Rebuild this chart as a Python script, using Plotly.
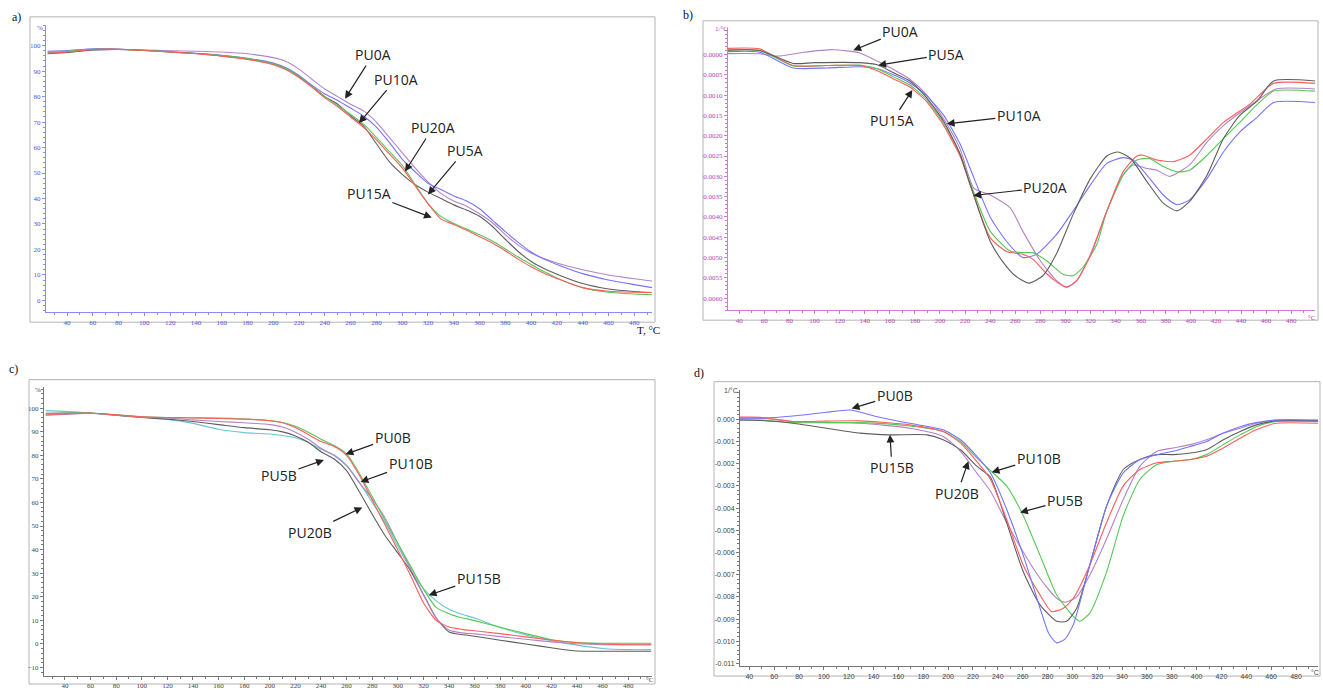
import plotly.graph_objects as go

W, H = 1323, 690

# ---------------- a) TG curves, series A (mass %, vs T in °C) ----------------
T_A = [25, 40, 60, 80, 100, 120, 140, 160, 180, 200, 210, 220, 230, 240, 250, 260, 270, 280, 290,
       300, 310, 320, 330, 340, 350, 360, 370, 380, 390, 400, 410, 420, 440, 460, 480, 494]
A_PU0A = [97.3, 97.6, 98.3, 98.5, 98.3, 98.0, 97.8, 97.5, 96.8, 95.3, 93.8, 90.8, 86.8, 83.0, 80.0, 77.0, 74.4, 70.0, 64.0,
          58.0, 52.0, 46.5, 42.0, 39.0, 37.0, 34.0, 30.5, 25.8, 21.7, 18.6, 16.4, 14.7, 12.0, 10.0, 8.5, 7.6]
A_PU10A = [97.8, 98.1, 98.8, 98.7, 98.2, 97.6, 97.0, 96.2, 95.0, 93.2, 91.3, 88.3, 84.5, 81.0, 78.5, 75.5, 72.4, 68.0, 62.0,
           55.5, 50.5, 46.0, 43.5, 41.0, 39.0, 36.0, 31.5, 27.0, 22.8, 19.0, 16.2, 14.1, 10.5, 8.0, 6.2, 5.0]
A_PU5A = [96.8, 97.3, 98.3, 98.5, 98.1, 97.5, 96.9, 96.0, 94.8, 92.8, 90.8, 87.8, 84.0, 80.0, 77.0, 72.5, 68.5, 61.5, 54.5,
          49.5, 45.5, 42.5, 40.0, 37.5, 35.5, 33.0, 29.0, 24.0, 19.2, 15.3, 12.5, 10.3, 6.6, 4.5, 3.5, 3.1]
A_PU20A = [97.5, 97.8, 98.6, 98.6, 98.2, 97.5, 96.9, 96.1, 94.9, 92.9, 90.9, 87.9, 84.0, 80.0, 76.5, 73.0, 69.2, 64.0, 58.5,
           53.0, 45.5, 38.0, 33.0, 30.2, 28.0, 25.8, 23.3, 20.2, 17.0, 14.1, 11.3, 8.8, 5.0, 3.2, 2.5, 2.2]
A_PU15A = [97.0, 97.5, 98.5, 98.6, 98.1, 97.5, 96.8, 95.9, 94.6, 92.5, 90.5, 87.5, 83.7, 79.5, 76.0, 72.0, 67.9, 63.0, 57.5,
           52.0, 45.0, 38.0, 32.0, 29.8, 27.5, 25.0, 22.5, 19.5, 16.2, 13.2, 10.7, 8.6, 5.0, 3.6, 3.2, 3.1]

# ---------------- b) DTG curves, series A (units of 1e-3 1/°C) ----------------
B_T_PU0A = [23, 56, 70, 90, 115, 136, 150, 163, 176, 189, 203, 216, 227, 240, 256, 266, 280, 293, 301, 309,
            320, 333, 346, 354, 364, 373, 383, 399, 413, 426, 447, 468, 499]
B_PU0A = [0.02, 0.02, -0.04, 0.05, 0.12, 0.04, -0.16, -0.37, -0.61, -0.98, -1.59, -2.32, -3.29, -3.46, -3.78, -4.35,
          -5.08, -5.57, -5.73, -5.57, -4.92, -3.86, -2.97, -2.72, -2.80, -2.85, -3.0, -2.72, -2.15, -1.75, -1.26, -0.85, -0.85]
B_T_PU5A = [23, 56, 83, 100, 136, 150, 163, 176, 189, 203, 216, 224, 240, 250, 260, 271, 282, 293, 306, 320,
            333, 342, 352, 365, 378, 389, 399, 413, 426, 439, 453, 466, 499]
B_PU5A = [0.1, 0.1, -0.22, -0.2, -0.2, -0.25, -0.45, -0.65, -1.05, -1.65, -2.45, -3.2, -4.6, -5.1, -5.45, -5.63,
          -5.45, -4.9, -3.95, -3.05, -2.5, -2.4, -2.56, -3.13, -3.66, -3.85, -3.62, -2.97, -2.07, -1.5, -1.14, -0.65, -0.65]
B_T_PU15A = [23, 56, 83, 110, 136, 150, 163, 176, 189, 203, 216, 224, 240, 253, 266, 274, 285, 293, 301, 309,
             320, 333, 346, 357, 362, 373, 386, 399, 413, 426, 447, 466, 499]
B_PU15A = [0.14, 0.14, -0.27, -0.27, -0.27, -0.4, -0.6, -0.8, -1.15, -1.75, -2.5, -3.2, -4.51, -4.85, -4.92, -5.04,
           -5.4, -5.6, -5.73, -5.57, -4.95, -3.86, -2.89, -2.5, -2.48, -2.6, -2.64, -2.48, -2.07, -1.67, -1.22, -0.71, -0.71]
B_T_PU20A = [23, 56, 83, 110, 136, 150, 163, 176, 189, 203, 216, 224, 240, 256, 266, 274, 285, 298, 306, 314,
             325, 333, 346, 357, 367, 378, 389, 399, 413, 426, 439, 452, 466, 499]
B_PU20A = [0.1, 0.1, -0.28, -0.27, -0.26, -0.35, -0.55, -0.75, -1.1, -1.7, -2.45, -3.15, -4.35, -4.84, -4.88, -4.88,
           -5.08, -5.41, -5.45, -5.24, -4.68, -3.86, -2.97, -2.6, -2.56, -2.76, -2.89, -2.85, -2.48, -2.07, -1.67, -1.26, -0.9, -0.9]
B_T_PU10A = [23, 56, 83, 110, 136, 150, 163, 176, 189, 203, 216, 224, 240, 253, 266, 277, 293, 306, 320, 333,
             346, 354, 365, 378, 389, 399, 413, 426, 439, 453, 466, 499]
B_PU10A = [0.06, 0.06, -0.33, -0.33, -0.3, -0.35, -0.5, -0.7, -1.0, -1.5, -2.2, -2.8, -4.0, -4.6, -5.0, -4.92,
           -4.43, -3.86, -3.21, -2.68, -2.54, -2.6, -2.97, -3.46, -3.7, -3.58, -3.05, -2.4, -1.91, -1.54, -1.18, -1.18]
B_YTICKS = [0, -0.5, -1.0, -1.5, -2.0, -2.5, -3.0, -3.5, -4.0, -4.5, -5.0, -5.5, -6.0]
B_YTEXT = ["0.0000", "0.0005", "0.0010", "0.0015", "0.0020", "0.0025", "0.0030",
           "0.0035", "0.0040", "0.0045", "0.0050", "0.0055", "0.0060"]

# ---------------- c) TG curves, series B (mass %) ----------------
T_C = [25, 40, 60, 80, 100, 120, 140, 160, 180, 200, 210, 220, 230, 240, 250, 260, 270, 280, 290, 300,
       310, 320, 330, 340, 350, 360, 380, 400, 420, 440, 460, 480, 498]
C_PU15B = [98.9, 98.6, 97.9, 97.0, 96.2, 95.2, 93.5, 91.0, 89.6, 89.0, 88.4, 87.4, 85.5, 82.5, 80.2, 75.8, 68.5, 60.0, 51.5, 41.3,
           31.6, 23.5, 18.3, 14.7, 12.6, 11.0, 7.0, 3.8, 1.4, -0.5, -1.9, -2.4, -2.4]
C_PU20B = [97.8, 97.9, 97.8, 97.0, 96.0, 95.3, 94.3, 93.0, 91.7, 90.8, 89.9, 88.2, 85.5, 81.5, 78.5, 73.5, 64.5, 55.0, 46.0, 38.6,
           31.0, 21.0, 11.0, 5.1, 4.0, 3.3, 1.6, 0.0, -1.6, -3.0, -3.1, -3.1, -3.1]
C_PU5B = [97.2, 97.3, 97.8, 97.0, 96.2, 95.8, 95.0, 94.3, 93.8, 93.0, 92.0, 89.8, 86.8, 83.0, 80.0, 75.5, 68.3, 61.5, 53.5, 42.6,
          32.0, 21.0, 11.0, 5.9, 4.7, 4.3, 3.1, 2.0, 0.9, 0.1, -0.3, -0.3, -0.3]
C_PU10B = [97.0, 97.6, 97.9, 97.1, 96.3, 96.0, 95.8, 95.6, 95.3, 94.6, 93.8, 91.8, 88.8, 85.8, 83.8, 80.0, 71.5, 61.0, 50.5, 39.8,
           29.0, 17.5, 10.0, 7.2, 6.2, 5.6, 4.4, 3.0, 1.7, 0.6, 0.0, -0.3, -0.3]
C_PU0B = [97.6, 97.8, 97.9, 97.1, 96.3, 96.0, 95.9, 95.8, 95.4, 94.7, 93.9, 92.3, 89.8, 86.8, 84.2, 80.6, 72.3, 62.5, 52.3, 42.7,
          33.0, 23.3, 15.5, 12.8, 11.1, 9.9, 7.1, 4.4, 1.8, 0.6, 0.3, 0.3, 0.3]

# ---------------- d) DTG curves, series B (units of 1e-3 1/°C) ----------------
D_T_PU0B = [23, 49, 75, 102, 121, 143, 169, 196, 210, 223, 234, 247, 260.5, 274, 281, 287.4, 294, 300.8, 314,
            327.6, 341, 354.4, 368, 381, 395, 408, 421.5, 435, 448, 464, 498]
D_PU0B = [0.05, 0.05, 0.15, 0.32, 0.42, 0.12, -0.18, -0.47, -0.92, -1.66, -2.41, -4.04, -6.13, -8.51, -9.65, -10.07, -9.9,
          -9.25, -6.57, -3.9, -2.41, -1.81, -1.59, -1.44, -1.22, -1.0, -0.62, -0.33, -0.15, -0.03, -0.03]
D_T_PU15B = [23, 49, 75, 102, 129, 153, 183, 196, 210, 223, 234, 247, 260.5, 274, 287.4, 295.4, 303.5, 314,
             327.6, 341, 354.4, 368, 381, 395, 408, 421.5, 435, 448, 464, 498]
D_PU15B = [-0.03, -0.05, -0.18, -0.4, -0.62, -0.7, -0.7, -0.92, -1.37, -2.11, -2.6, -4.64, -6.87, -8.36, -9.1, -9.1, -8.51,
           -6.57, -3.9, -2.26, -1.81, -1.59, -1.59, -1.52, -1.37, -0.92, -0.55, -0.25, -0.07, -0.07]
D_T_PU10B = [23, 49, 75, 102, 129, 169, 196, 210, 223, 234, 247, 260.5, 274, 283.3, 292.7, 300.8, 314, 327.6,
             341, 354.4, 368, 381, 395, 408, 421.5, 435, 448, 464, 498]
D_PU10B = [0.09, 0.09, -0.1, -0.08, -0.07, -0.25, -0.55, -1.07, -1.89, -2.7, -4.49, -6.57, -7.91, -8.66, -8.51, -8.06,
           -6.57, -4.64, -3.0, -2.26, -1.96, -1.89, -1.81, -1.66, -1.29, -0.85, -0.47, -0.18, -0.18]
D_T_PU20B = [23, 49, 75, 102, 129, 169, 196, 210, 223, 234, 247, 260.5, 274, 287.4, 294, 303.5, 314, 327.6,
             341, 354.4, 368, 381, 395, 408, 421.5, 435, 448, 464, 498]
D_PU20B = [0.05, 0.05, -0.1, -0.15, -0.18, -0.4, -0.77, -1.44, -2.41, -3.23, -4.64, -5.98, -7.17, -8.06, -8.24, -8.0,
           -7.02, -5.38, -3.6, -2.11, -1.44, -1.29, -1.14, -0.92, -0.62, -0.4, -0.18, -0.03, -0.05]
D_T_PU5B = [23, 49, 75, 102, 129, 169, 196, 210, 223, 234, 247, 260.5, 274, 287.4, 300.8, 306, 314, 327.6,
            341, 354.4, 368, 381, 395, 408, 421.5, 435, 448, 464, 498]
D_PU5B = [-0.03, -0.03, -0.15, -0.15, -0.15, -0.3, -0.55, -1.0, -1.74, -2.3, -3.0, -4.34, -6.13, -7.91, -8.88, -9.1,
          -8.73, -6.87, -4.34, -2.7, -2.04, -1.89, -1.81, -1.59, -1.14, -0.7, -0.33, -0.1, -0.1]
D_YTICKS = [0, -1, -2, -3, -4, -5, -6, -7, -8, -9, -10, -11]
D_YTEXT = ["0.000", "-0.001", "-0.002", "-0.003", "-0.004", "-0.005", "-0.006",
           "-0.007", "-0.008", "-0.009", "-0.010", "-0.011"]

# ---------------- colours ----------------
PURPLE, BLUE, GRAY, GREEN, RED, CYAN = "#b483c6", "#7474ff", "#5e5e5e", "#55c855", "#ff5c5c", "#66c8cc"

fig = go.Figure()


def add(x, y, color, ax):
    fig.add_trace(go.Scatter(x=x, y=y, mode="lines", xaxis="x" + ax, yaxis="y" + ax,
                             line=dict(color=color, width=1.1, shape="spline", smoothing=0.6),
                             hoverinfo="skip", showlegend=False))


# panel a
add(T_A, A_PU0A, PURPLE, "")
add(T_A, A_PU10A, BLUE, "")
add(T_A, A_PU5A, GRAY, "")
add(T_A, A_PU20A, GREEN, "")
add(T_A, A_PU15A, RED, "")
# panel b
add(B_T_PU0A, B_PU0A, PURPLE, "2")
add(B_T_PU10A, B_PU10A, BLUE, "2")
add(B_T_PU20A, B_PU20A, GREEN, "2")
add(B_T_PU15A, B_PU15A, RED, "2")
add(B_T_PU5A, B_PU5A, GRAY, "2")
# panel c
add(T_C, C_PU15B, CYAN, "3")
add(T_C, C_PU20B, GRAY, "3")
add(T_C, C_PU5B, PURPLE, "3")
add(T_C, C_PU0B, GREEN, "3")
add(T_C, C_PU10B, RED, "3")
# panel d
add(D_T_PU20B, D_PU20B, PURPLE, "4")
add(D_T_PU5B, D_PU5B, GREEN, "4")
add(D_T_PU15B, D_PU15B, GRAY, "4")
add(D_T_PU10B, D_PU10B, RED, "4")
add(D_T_PU0B, D_PU0B, BLUE, "4")


def xdom(a, b):
    return [a / W, b / W]


def ydom(top, bottom):
    return [1 - bottom / H, 1 - top / H]


def xax(dom, rng, anchor, lc, fc, fam):
    return dict(domain=dom, range=rng, anchor=anchor, showline=True, linecolor=lc, linewidth=1,
                ticks="outside", ticklen=3, tickcolor=lc, tickwidth=1, tickmode="linear", tick0=40, dtick=20,
                tickfont=dict(size=7, color=fc, family=fam), showgrid=False, zeroline=False,
                minor=dict(ticks="outside", ticklen=2, tickcolor=lc, tick0=0, dtick=10, showgrid=False),
                fixedrange=True)


def yax(dom, rng, anchor, lc, fc, fam, major, minor_dt, tickvals=None, ticktext=None):
    d = dict(domain=dom, range=rng, anchor=anchor, showline=True, linecolor=lc, linewidth=1,
             ticks="outside", ticklen=3, tickcolor=lc, tickwidth=1,
             tickfont=dict(size=7, color=fc, family=fam), showgrid=False, zeroline=False,
             minor=dict(ticks="outside", ticklen=2, tickcolor=lc, tickmode="linear", tick0=0, dtick=minor_dt,
                        showgrid=False),
             fixedrange=True)
    if tickvals is not None:
        d.update(tickmode="array", tickvals=tickvals, ticktext=ticktext)
    else:
        d.update(tickmode="linear", tick0=0, dtick=major)
    return d


SERIF = "Liberation Serif"
SANS = "Liberation Sans"
A_LINE, A_TXT = "#8a8aff", "#5050e6"
B_LINE, B_TXT = "#d27ad2", "#b540b5"
C_LINE, C_TXT = "#777777", "#444444"

layout = dict(
    width=W, height=H, margin=dict(l=0, r=0, t=0, b=0),
    paper_bgcolor="white", plot_bgcolor="white", showlegend=False,
    xaxis=xax(xdom(46, 652), [23.7, 493.8], "y", A_LINE, A_TXT, SERIF),
    yaxis=yax(ydom(25, 315), [-4.66, 108.2], "x", A_LINE, A_TXT, SERIF, 10, 2),
    xaxis2=xax(xdom(728, 1315), [31, 499], "y2", B_LINE, B_TXT, SERIF),
    yaxis2=yax(ydom(28, 313), [-6.3, 0.66], "x2", B_LINE, B_TXT, SERIF, None, 0.1, B_YTICKS, B_YTEXT),
    xaxis3=xax(xdom(44, 652), [23.6, 498.6], "y3", C_LINE, C_TXT, SERIF),
    yaxis3=yax(ydom(390, 682), [-13.6, 109.1], "x3", C_LINE, C_TXT, SERIF, 10, 2),
    xaxis4=xax(xdom(740, 1318), [32.5, 497.7], "y4", C_LINE, C_TXT, SANS),
    yaxis4=yax(ydom(393, 672), [-11.12, 1.34], "x4", C_LINE, C_TXT, SANS, None, 0.2, D_YTICKS, D_YTEXT),
)
fig.update_layout(**layout)

# panel frames
BOXES = [(30, 17, 655, 325), (703, 21, 1318, 323), (29, 383, 655, 690), (714, 385, 1320, 682)]
for (x0, y0, x1, y1) in BOXES:
    fig.add_shape(type="rect", xref="paper", yref="paper", x0=x0 / W, x1=x1 / W, y0=1 - y1 / H, y1=1 - y0 / H,
                  line=dict(color="#b4b4b4", width=1), fillcolor="rgba(0,0,0,0)", layer="below")


def ptext(txt, px, py, size, color, fam, xanchor="center"):
    fig.add_annotation(text=txt, x=px / W, y=1 - py / H, xref="paper", yref="paper", showarrow=False,
                       font=dict(size=size, color=color, family=fam), xanchor=xanchor, yanchor="middle")


# panel letters
ptext("a)", 16, 17, 12, "#111", "Liberation Serif")
ptext("b)", 688, 15, 12, "#111", "Liberation Serif")
ptext("c)", 13, 372, 12, "#111", "Liberation Serif")
ptext("d)", 699, 376, 12, "#111", "Liberation Serif")
# unit labels
ptext("%", 40, 28, 7, A_TXT, SERIF)
ptext("T, °C", 648, 333, 11, "#111", "Liberation Serif")
ptext("1/°C", 721, 29, 7, B_TXT, SERIF)
ptext("°C", 1312, 321, 7, B_TXT, SERIF)
ptext("%", 38, 393, 7, C_TXT, SERIF)
ptext("°C", 650, 686, 7, C_TXT, SERIF)
ptext("1/°C", 731, 394, 7, C_TXT, SANS)
ptext("°C", 1315, 678, 7, C_TXT, SANS)

# curve labels with arrows: (text, tip x, tip y, axis suffix, dx, dy)
LABELS = [
    ("PU0A", 255.7, 79.2, "", 28, -44), ("PU10A", 266.5, 69.6, "", 37, -44),
    ("PU20A", 302.2, 50.6, "", 28, -44), ("PU5A", 320.0, 41.6, "", 37, -44),
    ("PU15A", 323.0, 32.5, "", -63, -24),
    ("PU0A", 130.9, 0.105, "2", 47, -19), ("PU5A", 150.8, -0.261, "2", 68, -11),
    ("PU15A", 178.0, -0.871, "2", -20, 31), ("PU10A", 205.4, -1.707, "2", 72, -8),
    ("PU20A", 226.6, -3.471, "2", 72, -8),
    ("PU5B", 242.3, 78.0, "3", -45, 16), ("PU20B", 272.3, 57.9, "3", -52, 25),
    ("PU0B", 259.2, 80.4, "3", 47, -17), ("PU10B", 270.9, 68.7, "3", 50, -18),
    ("PU15B", 324.2, 20.7, "3", 50, -17),
    ("PU0B", 122.4, 0.491, "4", 43, -13), ("PU15B", 153.2, -0.696, "4", 2, 33),
    ("PU20B", 216.3, -1.888, "4", -11, 32), ("PU10B", 235.1, -2.379, "4", 47, -14),
    ("PU5B", 257.9, -4.196, "4", 45, -12),
]
for txt, x, y, s, dx, dy in LABELS:
    fig.add_annotation(text=txt, x=x, y=y, xref="x" + s, yref="y" + s, ax=dx, ay=dy,
                       showarrow=True, arrowhead=2, arrowsize=1.3, arrowwidth=1.2, arrowcolor="#222",
                       standoff=0, font=dict(size=14, color="#222", family="Open Sans"))

fig.write_html("out.html")
